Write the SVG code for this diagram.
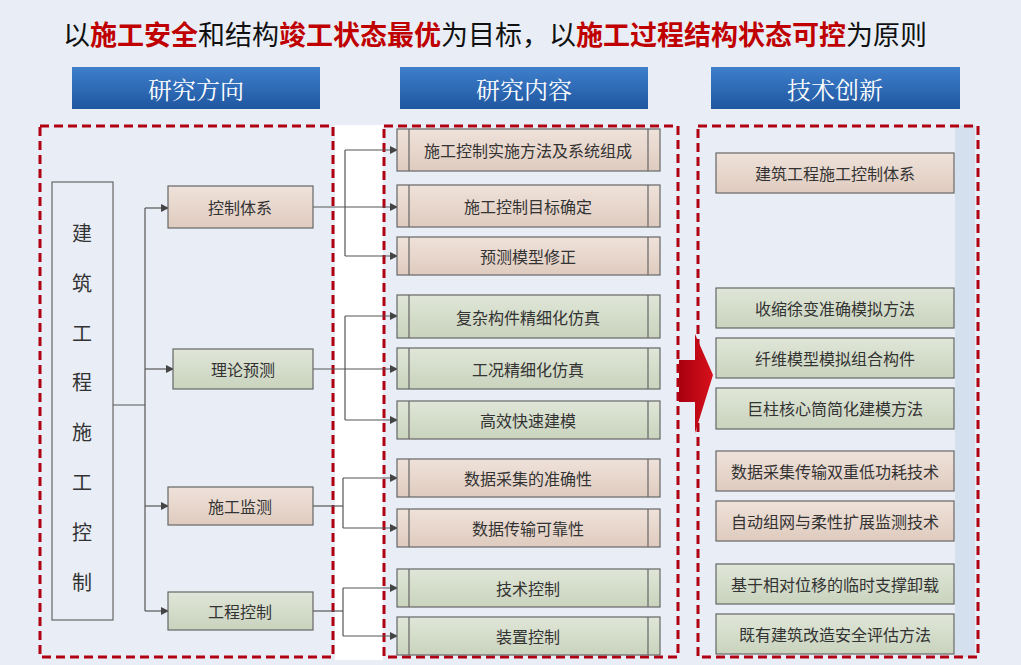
<svg xmlns="http://www.w3.org/2000/svg" width="1021" height="665" viewBox="0 0 1021 665">
<defs>
<linearGradient id="hb" x1="0" y1="0" x2="0" y2="1"><stop offset="0" stop-color="#3f7fcc"/><stop offset="1" stop-color="#1f56a0"/></linearGradient>
<linearGradient id="pk" x1="0" y1="0" x2="0" y2="1"><stop offset="0" stop-color="#efe2da"/><stop offset="1" stop-color="#dfcbbf"/></linearGradient>
<linearGradient id="gr" x1="0" y1="0" x2="0" y2="1"><stop offset="0" stop-color="#e0e6d8"/><stop offset="1" stop-color="#c9d3bd"/></linearGradient>
<linearGradient id="ra" x1="0" y1="0" x2="1" y2="0"><stop offset="0" stop-color="#a80010"/><stop offset="1" stop-color="#d8101c"/></linearGradient>
<marker id="ar" markerWidth="8" markerHeight="8" refX="7" refY="4" orient="auto" markerUnits="userSpaceOnUse"><path d="M0,0 L8,4 L0,8 Z" fill="#444"/></marker>
</defs>
<style>
text{font-family:"Noto Sans CJK SC","Noto Sans",sans-serif;fill:#333;text-anchor:middle;dominant-baseline:central}
.h text{fill:#fff;font-family:"Noto Serif CJK SC","Noto Sans CJK SC",serif;font-size:24px}
.p{fill:url(#pk);stroke:#666;stroke-width:1.2}
.g{fill:url(#gr);stroke:#666;stroke-width:1.2}
.t{font-size:16px}
.d{fill:none;stroke:#b00012;stroke-width:3;stroke-dasharray:9,5}
.c{fill:none;stroke:#555;stroke-width:1.2}
.in{stroke:#666;stroke-width:1.2}
</style>
<rect width="1021" height="665" fill="#e9eef6"/>
<rect x="335" y="125" width="48" height="535" fill="#fff"/>
<rect x="955" y="125" width="20" height="532" fill="#d5e0ee"/>
<text x="495" y="33" style="font-size:27px;fill:#111">以<tspan fill="#c00000" font-weight="bold">施工安全</tspan>和结构<tspan fill="#c00000" font-weight="bold">竣工状态最优</tspan>为目标，以<tspan fill="#c00000" font-weight="bold">施工过程结构状态可控</tspan>为原则</text>
<g class="h">
<rect x="72" y="67" width="248" height="42" fill="url(#hb)"/><text x="196" y="88">研究方向</text>
<rect x="400" y="67" width="248" height="42" fill="url(#hb)"/><text x="524" y="88">研究内容</text>
<rect x="711" y="67" width="249" height="42" fill="url(#hb)"/><text x="835" y="88">技术创新</text>
</g>
<rect class="d" x="40" y="126" width="293" height="531"/>
<rect class="d" x="384" y="126" width="294" height="531"/>
<rect class="d" x="698" y="126" width="280" height="531"/>
<g id="n0"><rect x="52" y="182" width="61" height="438" fill="#e9eef6" stroke="#666" stroke-width="1.2"/>
<g style="font-size:20px"><text x="82" y="232">建</text><text x="82" y="282">筑</text><text x="82" y="332">工</text><text x="82" y="381">程</text><text x="82" y="431">施</text><text x="82" y="481">工</text><text x="82" y="531">控</text><text x="82" y="581">制</text></g></g>
<g id="connectors">
<path class="c" d="M113,405 H145 M145,208 V611"/>
<path class="c" marker-end="url(#ar)" d="M145,208 H168"/>
<path class="c" marker-end="url(#ar)" d="M145,369 H173"/>
<path class="c" marker-end="url(#ar)" d="M145,506 H168"/>
<path class="c" marker-end="url(#ar)" d="M145,611 H168"/>
<path class="c" d="M345,150 V256 M343,478 V528 M343,588 V636 M345,316 V420"/>
<path class="c" marker-end="url(#ar)" d="M345,150 H397"/>
<path class="c" marker-end="url(#ar)" d="M313,207 H397"/>
<path class="c" marker-end="url(#ar)" d="M345,256 H397"/>
<path class="c" marker-end="url(#ar)" d="M345,316 H397"/>
<path class="c" marker-end="url(#ar)" d="M313,369 H397"/>
<path class="c" marker-end="url(#ar)" d="M345,420 H397"/>
<path class="c" d="M313,506 H343"/>
<path class="c" marker-end="url(#ar)" d="M343,478 H397"/>
<path class="c" marker-end="url(#ar)" d="M343,528 H397"/>
<path class="c" d="M313,611 H343"/>
<path class="c" marker-end="url(#ar)" d="M343,588 H397"/>
<path class="c" marker-end="url(#ar)" d="M343,636 H397"/>
</g>
<g id="n1"><rect class="p" x="168" y="186" width="145" height="42"/><text class="t" x="240" y="207">控制体系</text></g>
<g id="n2"><rect class="g" x="173" y="349" width="140" height="40"/><text class="t" x="243" y="369">理论预测</text></g>
<g id="n3"><rect class="p" x="168" y="487" width="145" height="38"/><text class="t" x="240" y="506">施工监测</text></g>
<g id="n4"><rect class="g" x="168" y="592" width="145" height="38"/><text class="t" x="240" y="611">工程控制</text></g>
<g id="m1"><rect class="p" x="397" y="129" width="263" height="42"/><path class="in" d="M409,129V171M648,129V171"/><text class="t" x="528" y="150">施工控制实施方法及系统组成</text></g>
<g id="m2"><rect class="p" x="397" y="185" width="263" height="42"/><path class="in" d="M409,185V227M648,185V227"/><text class="t" x="528" y="206">施工控制目标确定</text></g>
<g id="m3"><rect class="p" x="397" y="237" width="263" height="38"/><path class="in" d="M409,237V275M648,237V275"/><text class="t" x="528" y="256">预测模型修正</text></g>
<g id="m4"><rect class="g" x="397" y="295" width="263" height="43"/><path class="in" d="M409,295V338M648,295V338"/><text class="t" x="528" y="317">复杂构件精细化仿真</text></g>
<g id="m5"><rect class="g" x="397" y="348" width="263" height="41"/><path class="in" d="M409,348V389M648,348V389"/><text class="t" x="528" y="369">工况精细化仿真</text></g>
<g id="m6"><rect class="g" x="397" y="401" width="263" height="38"/><path class="in" d="M409,401V439M648,401V439"/><text class="t" x="528" y="420">高效快速建模</text></g>
<g id="m7"><rect class="p" x="397" y="459" width="263" height="38"/><path class="in" d="M409,459V497M648,459V497"/><text class="t" x="528" y="478">数据采集的准确性</text></g>
<g id="m8"><rect class="p" x="397" y="509" width="263" height="38"/><path class="in" d="M409,509V547M648,509V547"/><text class="t" x="528" y="528">数据传输可靠性</text></g>
<g id="m9"><rect class="g" x="397" y="569" width="263" height="38"/><path class="in" d="M409,569V607M648,569V607"/><text class="t" x="528" y="588">技术控制</text></g>
<g id="m10"><rect class="g" x="397" y="617" width="263" height="38"/><path class="in" d="M409,617V655M648,617V655"/><text class="t" x="528" y="636">装置控制</text></g>
<g id="arrow"><polygon points="679,360 695,360 695,334 713,375 695,433 695,402 679,402" fill="url(#ra)"/></g>
<g id="r1"><rect class="p" x="716" y="153" width="238" height="40"/><text class="t" x="835" y="173">建筑工程施工控制体系</text></g>
<g id="r2"><rect class="g" x="716" y="288" width="238" height="40"/><text class="t" x="835" y="308">收缩徐变准确模拟方法</text></g>
<g id="r3"><rect class="g" x="716" y="338" width="238" height="40"/><text class="t" x="835" y="358">纤维模型模拟组合构件</text></g>
<g id="r4"><rect class="g" x="716" y="388" width="238" height="41"/><text class="t" x="835" y="408">巨柱核心筒简化建模方法</text></g>
<g id="r5"><rect class="p" x="716" y="451" width="238" height="40"/><text class="t" x="835" y="471">数据采集传输双重低功耗技术</text></g>
<g id="r6"><rect class="p" x="716" y="501" width="238" height="40"/><text class="t" x="835" y="521">自动组网与柔性扩展监测技术</text></g>
<g id="r7"><rect class="g" x="716" y="564" width="238" height="40"/><text class="t" x="835" y="584">基于相对位移的临时支撑卸载</text></g>
<g id="r8"><rect class="g" x="716" y="614" width="238" height="40"/><text class="t" x="835" y="634">既有建筑改造安全评估方法</text></g>
</svg>
